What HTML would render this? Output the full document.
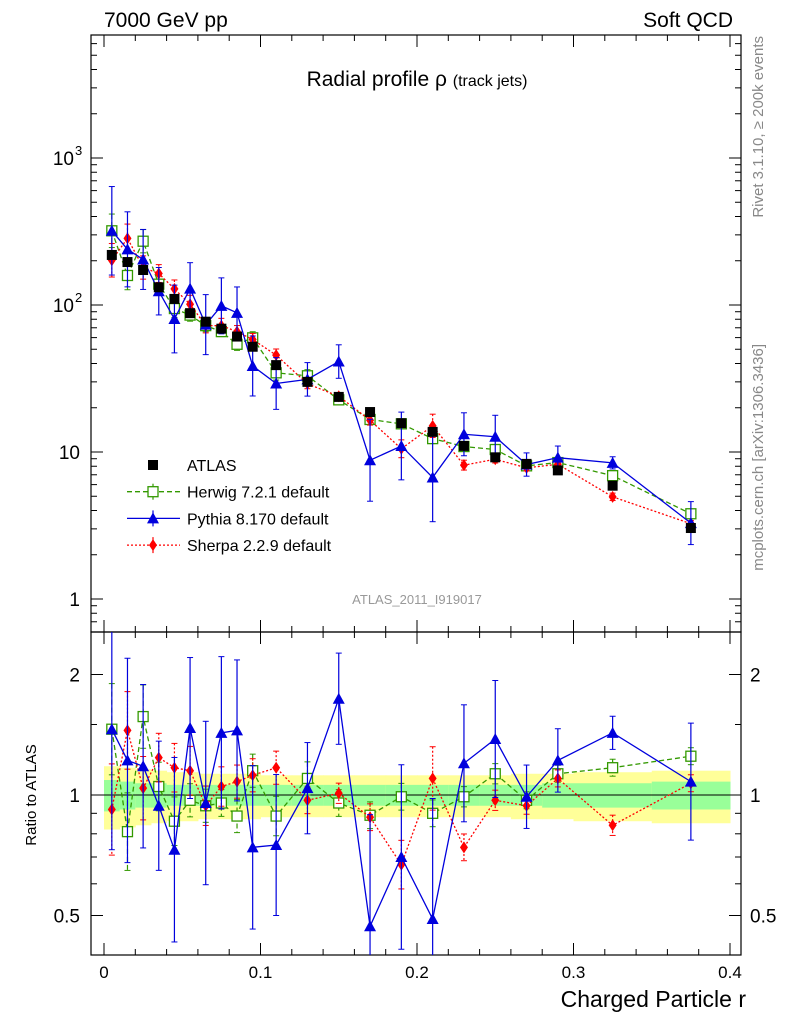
<!DOCTYPE html>
<html><head><meta charset="utf-8"><style>
body{margin:0;background:#fff;font-family:"Liberation Sans",sans-serif}
svg text{font-family:"Liberation Sans","DejaVu Sans",sans-serif}
</style></head><body>
<svg id="c" width="786" height="1024" xmlns="http://www.w3.org/2000/svg"></svg>
<script>
const xCenters=[0.005,0.015,0.025,0.035,0.045,0.055,0.065,0.075,0.085,0.095,0.11,0.13,0.15,0.17,0.19,0.21,0.23,0.25,0.27,0.29,0.325,0.375];
const xLow=[0,0.01,0.02,0.03,0.04,0.05,0.06,0.07,0.08,0.09,0.1,0.12,0.14,0.16,0.18,0.2,0.22,0.24,0.26,0.28,0.3,0.35];
const xHigh=[0.01,0.02,0.03,0.04,0.05,0.06,0.07,0.08,0.09,0.1,0.12,0.14,0.16,0.18,0.2,0.22,0.24,0.26,0.28,0.3,0.35,0.4];
const atlas=[219,196,173,132,110,88,77,69,61,52,39,30,23.7,18.7,15.7,13.7,11,9.2,8.3,7.5,5.9,3.04];
const herwigRatio=[1.46,0.81,1.57,1.05,0.86,0.97,0.94,0.955,0.886,1.15,0.886,1.1,0.955,0.89,0.99,0.9,0.99,1.13,0.97,1.13,1.17,1.25];
const pythiaRatio=[1.46,1.22,1.18,0.94,0.73,1.47,0.955,1.43,1.45,0.74,0.75,1.04,1.74,0.47,0.70,0.49,1.2,1.38,0.99,1.22,1.43,1.08];
const sherpaRatio=[0.92,1.45,1.04,1.24,1.17,1.15,0.94,1.05,1.08,1.12,1.17,0.97,1.01,0.88,0.67,1.10,0.74,0.97,0.94,1.10,0.84,1.07];
const herwigErr=[0.3,0.25,0.2,0.15,0.15,0.1,0.1,0.08,0.1,0.1,0.12,0.1,0.08,0.08,0.08,0.08,0.06,0.06,0.05,0.05,0.05,0.05];
const pythiaErr=[1.0,0.8,0.6,0.45,0.7,0.5,0.6,0.55,0.5,0.6,0.5,0.3,0.3,0.9,0.7,1.0,0.4,0.4,0.2,0.2,0.1,0.4];
const sherpaErr=[0.3,0.25,0.2,0.15,0.15,0.15,0.12,0.12,0.1,0.1,0.1,0.08,0.06,0.08,0.15,0.2,0.08,0.06,0.05,0.05,0.06,0.05];
const yellowBand=[0.18,0.17,0.16,0.15,0.14,0.14,0.13,0.13,0.13,0.13,0.12,0.12,0.12,0.12,0.12,0.12,0.12,0.12,0.13,0.13,0.14,0.15];
const greenBand=[0.09,0.08,0.07,0.07,0.06,0.06,0.06,0.06,0.06,0.06,0.06,0.06,0.06,0.06,0.06,0.06,0.06,0.06,0.06,0.07,0.07,0.08];
const xTicks=[0,0.1,0.2,0.3,0.4];
const xTickLabels=["0","0.1","0.2","0.3","0.4"];
const ratioTicks=[0.5,1,2];

const S=document.getElementById('c');const NS='http://www.w3.org/2000/svg';
function el(t,a,p){const e=document.createElementNS(NS,t);for(const k in a)e.setAttribute(k,a[k]);(p||S).appendChild(e);return e;}
const L=91,R=741,T=35,MB=632,RB=955;
const X=v=>104+v*1565;
const Y=v=>599-Math.log10(v)*147;
const YR=v=>795-Math.log2(v)*120.5;
const clipY=(y,t,b)=>Math.max(t,Math.min(b,y));

const gB=el('g',{});
xCenters.forEach((c,i)=>{
 el('rect',{x:X(xLow[i]),y:YR(1+yellowBand[i]),width:X(xHigh[i])-X(xLow[i])+0.5,height:YR(1-yellowBand[i])-YR(1+yellowBand[i]),fill:'#ffff99'},gB);
 el('rect',{x:X(xLow[i]),y:YR(1+greenBand[i]),width:X(xHigh[i])-X(xLow[i])+0.5,height:YR(1-greenBand[i])-YR(1+greenBand[i]),fill:'#99ff99'},gB);
});
el('line',{x1:L,x2:R,y1:YR(1),y2:YR(1),stroke:'#000','stroke-width':1});

const f1=el('rect',{x:L,y:T,width:R-L,height:MB-T,fill:'none',stroke:'#000','stroke-width':1.2});

const f2=el('rect',{x:L,y:MB,width:R-L,height:RB-MB,fill:'none',stroke:'#000','stroke-width':1.2});


xTicks.forEach((t,i)=>{
 [[T,MB],[MB,RB]].forEach(([a,b])=>{
  el('line',{x1:X(t),x2:X(t),y1:b,y2:b-12,stroke:'#000'});el('line',{x1:X(t),x2:X(t),y1:a,y2:a+12,stroke:'#000'});
 });
 const tx=el('text',{x:X(t),y:978,'font-size':17,'text-anchor':'middle'});tx.textContent=xTickLabels[i];
 
});
for(let t=0.02;t<0.4;t+=0.02){if(Math.abs(t*10-Math.round(t*10))<1e-6)continue;
 [[T,MB],[MB,RB]].forEach(([a,b])=>{el('line',{x1:X(t),x2:X(t),y1:b,y2:b-6,stroke:'#000'});el('line',{x1:X(t),x2:X(t),y1:a,y2:a+6,stroke:'#000'});});}
for(let d=0;d<=3;d++){for(let m=1;m<10;m++){const v=m*Math.pow(10,d);const y=Y(v);if(y<T)continue;const len=m==1?12:6;
 el('line',{x1:L,x2:L+len,y1:y,y2:y,stroke:'#000'});el('line',{x1:R,x2:R-len,y1:y,y2:y,stroke:'#000'});}}
[0.7,0.8,0.9].forEach(v=>{const y=Y(v);if(y<MB){el('line',{x1:L,x2:L+6,y1:y,y2:y,stroke:'#000'});el('line',{x1:R,x2:R-6,y1:y,y2:y,stroke:'#000'});}});
const ml=[[1,"1",""],[10,"10",""],[100,"10","2"],[1000,"10","3"]];
ml.forEach(([v,b,e])=>{const t=el('text',{x:e?74:80,y:Y(v)+7,'font-size':19,'text-anchor':'end'});t.textContent=b;
 
 if(e){const s=el('text',{x:75,y:Y(v)-3,'font-size':13});s.textContent=e;}});
ratioTicks.forEach(v=>{const y=YR(v);el('line',{x1:L,x2:L+12,y1:y,y2:y,stroke:'#000'});el('line',{x1:R,x2:R-12,y1:y,y2:y,stroke:'#000'});
 const a=el('text',{x:80,y:y+7,'font-size':19,'text-anchor':'end'});a.textContent=String(v);
 
 const b=el('text',{x:750,y:y+7,'font-size':19});b.textContent=String(v);});
[0.6,0.7,0.8,0.9,1.5].forEach(v=>{const y=YR(v);el('line',{x1:L,x2:L+6,y1:y,y2:y,stroke:'#000'});el('line',{x1:R,x2:R-6,y1:y,y2:y,stroke:'#000'});});

const series=[
 {name:'herwig',ratio:herwigRatio,err:herwigErr,col:'#339900',dash:'5,3',mk:'osq'},
 {name:'sherpa',ratio:sherpaRatio,err:sherpaErr,col:'#ff0000',dash:'2,2',mk:'dia'},
 {name:'pythia',ratio:pythiaRatio,err:pythiaErr,col:'#0000dd',dash:'',mk:'tri'},
];
function marker(g,kind,x,y,col){
 if(kind==='osq')el('rect',{x:x-5,y:y-5,width:10,height:10,fill:'#fff',stroke:col,'stroke-width':1.3},g);
 else if(kind==='tri')el('path',{d:`M${x},${y-6}L${x+6},${y+5}L${x-6},${y+5}Z`,fill:col},g);
 else if(kind==='dia')el('path',{d:`M${x},${y-6}L${x+4},${y}L${x},${y+6}L${x-4},${y}Z`,fill:col},g);
 else el('rect',{x:x-5,y:y-5,width:10,height:10,fill:'#000'},g);
}
series.forEach(s=>{
 const g=el('g',{});
 const vals=atlas.map((a,i)=>a*s.ratio[i]);
 el('polyline',{points:xCenters.map((c,i)=>X(c)+','+Y(vals[i])).join(' '),fill:'none',stroke:s.col,'stroke-width':1.3,'stroke-dasharray':s.dash},g);
 el('polyline',{points:xCenters.map((c,i)=>X(c)+','+YR(s.ratio[i])).join(' '),fill:'none',stroke:s.col,'stroke-width':1.3,'stroke-dasharray':s.dash},g);
 xCenters.forEach((c,i)=>{
  const e=s.err[i];const x=X(c);
  el('line',{x1:x,x2:x,y1:clipY(Y(vals[i]*(1+e)),T,MB),y2:clipY(Y(vals[i]/(1+e)),T,MB),stroke:s.col,'stroke-width':1.2,'stroke-dasharray':s.dash},g);
  el('line',{x1:x,x2:x,y1:clipY(YR(s.ratio[i]*(1+e)),MB,RB),y2:clipY(YR(s.ratio[i]/(1+e)),MB,RB),stroke:s.col,'stroke-width':1.2,'stroke-dasharray':s.dash},g);
  [[Y(vals[i]*(1+e)),T,MB],[Y(vals[i]/(1+e)),T,MB],[YR(s.ratio[i]*(1+e)),MB,RB],[YR(s.ratio[i]/(1+e)),MB,RB]].forEach(([yy,a,b])=>{if(yy>a&&yy<b)el('line',{x1:x-3,x2:x+3,y1:yy,y2:yy,stroke:s.col},g);});
  marker(g,s.mk,x,Y(vals[i]),s.col);
  const yr=YR(s.ratio[i]);if(yr>MB&&yr<RB)marker(g,s.mk,x,yr,s.col);
 });
});
const gA=el('g',{});
xCenters.forEach((c,i)=>marker(gA,'sq',X(c),Y(atlas[i]),'#000'));

const leg=el('g',{});
const le=[['ATLAS','sq','#000',''],['Herwig 7.2.1 default','osq','#339900','5,3'],['Pythia 8.170 default','tri','#0000dd',''],['Sherpa 2.2.9 default','dia','#ff0000','2,2']];
le.forEach((l,i)=>{const y=465+i*26.7;const g=el('g',{},leg);
 if(i>0){el('line',{x1:127,x2:180,y1:y,y2:y,stroke:l[2],'stroke-width':1.3,'stroke-dasharray':l[3]},g);el('line',{x1:153,x2:153,y1:y-8,y2:y+8,stroke:l[2],'stroke-width':1.2},g);}
 marker(g,l[1],153,y,l[2]);
 const t=el('text',{x:187,y:y+6,'font-size':16},g);t.textContent=l[0];});

function txt(s,a,name){const t=el('text',a);t.textContent=s;return t;}
txt('7000 GeV pp',{x:104,y:27,'font-size':21},'energy-label');
txt('Soft QCD',{x:733,y:27,'font-size':21,'text-anchor':'end'},'process-label');
const tt=txt('',{x:417,y:86,'font-size':21,'text-anchor':'middle'},'plot-title');
tt.innerHTML='Radial profile ρ <tspan font-size="16">(track jets)</tspan>';
txt('ATLAS_2011_I919017',{x:417,y:604,'font-size':13,'text-anchor':'middle',fill:'#999'},'analysis-id');
txt('Rivet 3.1.10, ≥ 200k events',{x:0,y:0,'font-size':15,'text-anchor':'end',fill:'#888',transform:'translate(763,36) rotate(-90)'},'rivet-label');
txt('mcplots.cern.ch [arXiv:1306.3436]',{x:0,y:0,'font-size':15,'text-anchor':'end',fill:'#888',transform:'translate(763,344) rotate(-90)'},'mcplots-label');
txt('Ratio to ATLAS',{x:0,y:0,'font-size':15,'text-anchor':'middle',transform:'translate(36,795) rotate(-90)'},'y-axis-title');
txt('Charged Particle r',{x:746,y:1007,'font-size':23,'text-anchor':'end'},'x-axis-title');
</script>
</body></html>
